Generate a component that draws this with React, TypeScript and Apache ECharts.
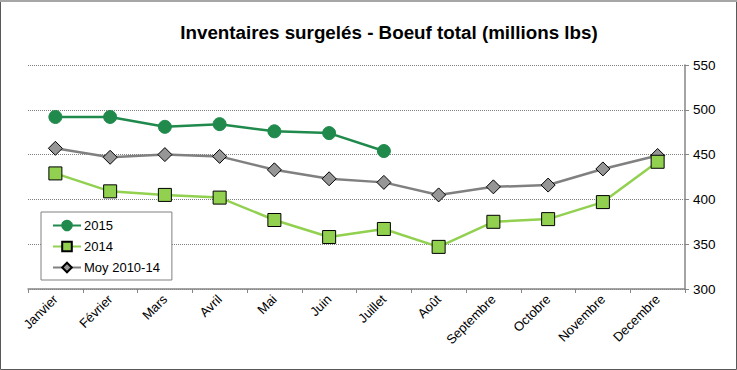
import React, { useEffect, useRef } from "react";
import * as echarts from "echarts";

const months = ["Janvier", "Février", "Mars", "Avril", "Mai", "Juin", "Juillet", "Août", "Septembre", "Octobre", "Novembre", "Decembre"];
const s2015 = [492, 492, 481, 484, 476, 474, 454, null, null, null, null, null];
const s2014 = [429, 409, 405, 402, 377, 358, 367, 347, 375, 378, 397, 442];
const moy = [457, 447, 450, 448, 433, 423, 419, 405, 414, 416, 434, 449];
const yTicks = { min: 300, max: 550, interval: 50 };

export default function App() {
  const ref = useRef<HTMLDivElement>(null);
  useEffect(() => {
    document.body.style.margin = "0";
    const chart = echarts.init(ref.current!, null, { renderer: "svg" });
    const font = "'Liberation Sans', Arial, sans-serif";
    chart.setOption({
      animation: false,
      backgroundColor: "#ffffff",
      textStyle: { fontFamily: font },
      title: {
        text: "Inventaires surgelés - Boeuf total (millions lbs)",
        left: 384,
        textAlign: "center",
        top: 18,
        textStyle: { fontFamily: font, fontSize: 18.8, fontWeight: "bold", color: "#000" },
      },
      graphic: [
        {
          type: "rect",
          shape: { x: 0.5, y: 0.5, width: 736, height: 369 },
          style: { fill: "none", stroke: "#595959", lineWidth: 1 },
          silent: true,
        },
        {
          type: "line",
          shape: { x1: 0, y1: 1, x2: 737, y2: 1 },
          style: { stroke: "#a6a6a6", lineWidth: 2 },
          silent: true,
        },
      ],
      legend: {
        orient: "vertical",
        left: 41,
        top: 212,
        padding: [7, 12, 6, 11],
        itemGap: 8,
        itemWidth: 28,
        itemHeight: 12,
        backgroundColor: "#ffffff",
        borderColor: "#808080",
        borderWidth: 1,
        textStyle: { fontFamily: font, fontSize: 13, color: "#000", padding: [0, 0, 0, -2] },
        data: ["2015", "2014", "Moy 2010-14"],
      },
      grid: { left: 28, right: 52, top: 65, bottom: 81, containLabel: false },
      xAxis: {
        type: "category",
        data: months,
        boundaryGap: true,
        axisLine: { lineStyle: { color: "#868686", width: 1.5 } },
        axisTick: { show: true, length: 4, lineStyle: { color: "#868686" } },
        axisLabel: {
          rotate: 45,
          interval: 0,
          fontSize: 13,
          fontFamily: font,
          color: "#000",
          margin: 8,
        },
      },
      yAxis: {
        type: "value",
        position: "right",
        min: yTicks.min,
        max: yTicks.max,
        interval: yTicks.interval,
        axisLine: { show: true, lineStyle: { color: "#868686", width: 1.5 } },
        axisTick: { show: true, inside: false, length: 4, lineStyle: { color: "#868686" } },
        axisLabel: { fontSize: 13.5, fontFamily: font, color: "#000", margin: 8 },
        splitLine: { show: true, lineStyle: { color: "#7f7f7f", type: [1, 1], width: 1 } },
      },
      series: [
        {
          name: "Moy 2010-14",
          type: "line",
          data: moy,
          symbol: "diamond",
          symbolSize: 14,
          z: 2,
          lineStyle: { color: "#808080", width: 2.5 },
          itemStyle: { color: "#969696", borderColor: "#000", borderWidth: 1 },
        },
        {
          name: "2014",
          type: "line",
          data: s2014,
          symbol: "rect",
          symbolSize: 13,
          z: 3,
          lineStyle: { color: "#92D050", width: 2.5 },
          itemStyle: { color: "#92D050", borderColor: "#000", borderWidth: 1 },
        },
        {
          name: "2015",
          type: "line",
          data: s2015,
          symbol: "circle",
          symbolSize: 13,
          z: 4,
          connectNulls: false,
          lineStyle: { color: "#1F8A4C", width: 2.5 },
          itemStyle: { color: "#1F8A4C", borderColor: "#1F8A4C", borderWidth: 1 },
        },
      ],
    });
    return () => chart.dispose();
  }, []);
  return <div ref={ref} style={{ position: "absolute", left: 0, top: 0, width: 737, height: 370 }} />;
}
